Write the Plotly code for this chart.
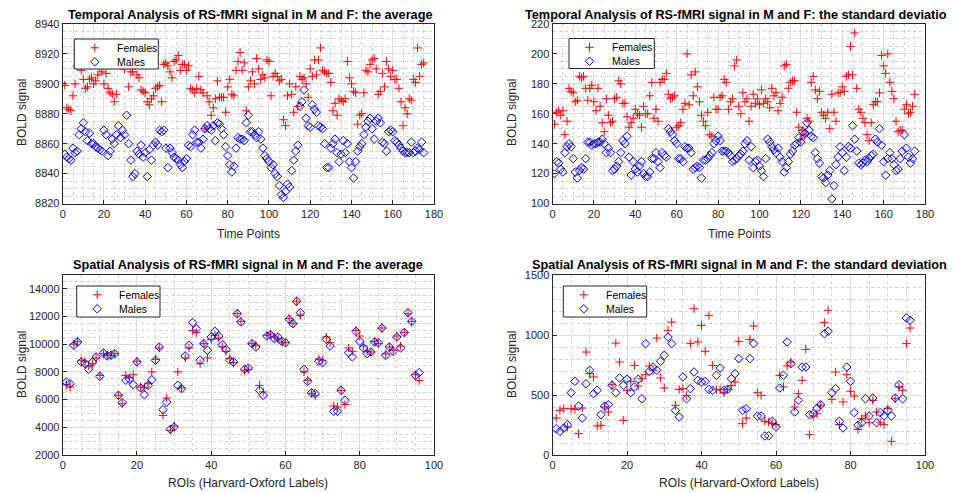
import plotly.graph_objects as go

# time points 1..175 and ROI indices 1..96
time_points = list(range(1, 176))
rois = list(range(1, 97))

# Temporal average (BOLD signal)
fem_avg_t = [8899, 8884, 8883, 8882, 8892, 8900, 8912, 8915, 8909, 8903,
             8897, 8898, 8903, 8904, 8900, 8902, 8906, 8911, 8908, 8900,
             8907, 8897, 8894, 8893, 8888, 8893, 8914, 8912, 8918, 8910,
             8913, 8898, 8908, 8908, 8912, 8906, 8904, 8896, 8895, 8894,
             8888, 8886, 8890, 8892, 8897, 8898, 8899, 8888, 8913, 8914,
             8912, 8908, 8904, 8915, 8916, 8919, 8909, 8913, 8913, 8909,
             8912, 8897, 8896, 8894, 8897, 8905, 8896, 8894, 8870, 8892,
             8888, 8879, 8884, 8890, 8902, 8891, 8891, 8891, 8881, 8898,
             8903, 8893, 8892, 8909, 8915, 8921, 8909, 8914, 8882, 8898,
             8902, 8908, 8900, 8917, 8910, 8903, 8906, 8904, 8916, 8915,
             8892, 8905, 8907, 8905, 8902, 8903, 8876, 8872, 8892, 8900,
             8893, 8881, 8898, 8885, 8905, 8903, 8904, 8900, 8891, 8910,
             8905, 8916, 8906, 8916, 8924, 8909, 8908, 8907, 8907, 8901,
             8882, 8887, 8879, 8890, 8889, 8888, 8890, 8915, 8904, 8900,
             8895, 8894, 8873, 8879, 8880, 8894, 8909, 8908, 8913, 8916,
             8917, 8910, 8893, 8895, 8907, 8898, 8915, 8910, 8905, 8909,
             8903, 8903, 8897, 8888, 8872, 8884, 8880, 8890, 8889, 8903,
             8901, 8924, 8905, 8913, 8914]
male_avg_t = [8853, 8851, 8850, 8849, 8857, 8854, 8855, 8866, 8870, 8874,
              8868, 8862, 8867, 8860, 8860, 8858, 8857, 8856, 8855, 8869,
              8866, 8852, 8855, 8863, 8860, 8866, 8872, 8864, 8869, 8866,
              8879, 8860, 8849, 8838, 8840, 8855, 8853, 8859, 8851, 8854,
              8838, 8856, 8849, 8859, 8861, 8859, 8869, 8868, 8869, 8857,
              8844, 8857, 8854, 8851, 8850, 8849, 8846, 8844, 8848, 8850,
              8859, 8858, 8866, 8869, 8861, 8861, 8857, 8863, 8870, 8872,
              8870, 8869, 8872, 8862, 8874, 8873, 8870, 8866, 8858, 8852,
              8846, 8841, 8845, 8857, 8864, 8863, 8863, 8862, 8874, 8879,
              8868, 8868, 8866, 8864, 8868, 8863, 8857, 8852, 8850, 8848,
              8844, 8846, 8840, 8838, 8832, 8826, 8824, 8828, 8833, 8831,
              8842, 8849, 8855, 8859, 8885, 8888, 8896, 8877, 8872, 8871,
              8886, 8883, 8881, 8872, 8871, 8870, 8860, 8844, 8844, 8857,
              8860, 8863, 8854, 8848, 8853, 8862, 8854, 8860, 8848, 8844,
              8837, 8848, 8855, 8858, 8860, 8866, 8871, 8875, 8877, 8870,
              8863, 8875, 8877, 8874, 8861, 8860, 8855, 8868, 8869, 8868,
              8862, 8861, 8859, 8857, 8855, 8854, 8854, 8854, 8861, 8854,
              8855, 8857, 8856, 8861, 8854]

# Temporal standard deviation
fem_std_t = [153, 161, 162, 159, 162, 146, 155, 177, 175, 174,
             168, 169, 185, 184, 185, 177, 169, 177, 179, 168,
             162, 177, 165, 154, 148, 170, 159, 154, 155, 170,
             171, 182, 180, 167, 167, 158, 151, 154, 157, 163,
             160, 159, 151, 165, 160, 160, 172, 181, 157, 163,
             155, 181, 183, 183, 187, 173, 170, 171, 172, 151,
             152, 154, 163, 167, 200, 166, 186, 172, 188, 178,
             168, 159, 155, 152, 161, 146, 145, 171, 163, 163,
             171, 172, 183, 181, 163, 168, 170, 192, 196, 165,
             160, 174, 168, 170, 155, 165, 173, 167, 170, 166,
             176, 167, 170, 168, 164, 177, 172, 174, 162, 167,
             171, 192, 193, 177, 181, 182, 182, 161, 151, 143,
             149, 146, 157, 155, 181, 185, 176, 170, 175, 161,
             159, 157, 161, 150, 173, 161, 155, 174, 174, 178,
             175, 185, 186, 205, 186, 214, 177, 163, 161, 157,
             154, 146, 142, 154, 166, 168, 168, 174, 199, 192,
             187, 200, 181, 175, 170, 155, 148, 149, 149, 163,
             166, 160, 161, 165, 173]
male_std_t = [120, 128, 127, 123, 121, 134, 138, 140, 138, 130,
              121, 117, 122, 124, 123, 130, 141, 141, 139, 140,
              140, 141, 141, 143, 140, 134, 137, 134, 122, 123,
              125, 128, 134, 142, 140, 145, 131, 119, 128, 123,
              121, 125, 128, 120, 118, 118, 121, 130, 130, 134,
              128, 124, 134, 132, 131, 150, 148, 146, 142, 140,
              130, 130, 128, 138, 137, 137, 134, 123, 124, 125,
              124, 117, 129, 129, 130, 132, 134, 140, 142, 145,
              142, 135, 135, 135, 134, 132, 128, 129, 130, 132,
              133, 135, 140, 142, 129, 138, 124, 128, 129, 125,
              122, 118, 130, 143, 141, 138, 136, 134, 137, 131,
              128, 121, 124, 128, 133, 135, 139, 140, 144, 141,
              148, 147, 154, 149, 145, 144, 134, 130, 127, 118,
              117, 114, 119, 122, 103, 112, 126, 131, 138, 134,
              122, 131, 138, 137, 152, 143, 135, 127, 126, 127,
              129, 128, 130, 132, 133, 143, 141, 150, 139, 128,
              119, 130, 134, 130, 126, 122, 123, 130, 135, 146,
              137, 131, 127, 130, 135]

# Spatial average per ROI
fem_avg_s = [7080, 6910, 10000, 10210, 8840, 8770, 8430, 8600, 9010, 7750,
             9320, 9200, 9200, 9320, 6310, 5710, 7750, 7600, 7800, 8770,
             6910, 6840, 7150, 8000, 8910, 9730, 4860, 6110, 3780, 4090,
             8000, 6840, 9010, 9730, 11000, 10840, 8600, 10040, 9010, 10350,
             10640, 10450, 9800, 9490, 8960, 8670, 12210, 11650, 8120, 8190,
             10040, 9920, 7030, 6550, 10640, 10750, 10520, 10400, 10160, 10110,
             11850, 11490, 13100, 12090, 8000, 7390, 6450, 6310, 8910, 8840,
             10520, 10110, 5540, 5470, 6670, 5640, 9730, 9490, 11000, 10590,
             9870, 9490, 9440, 10200, 10050, 11170, 9300, 9800, 9550, 10590,
             9870, 10840, 12210, 11650, 7800, 7390]
male_avg_s = [7270, 7150, 9920, 10160, 8720, 8600, 8190, 8720, 9080, 7680,
              9370, 9150, 9200, 9320, 6310, 5780, 7400, 7460, 7080, 8720,
              6840, 6360, 7030, 7440, 8840, 9800, 5270, 5820, 3850, 4020,
              7030, 6790, 9150, 9920, 11560, 11120, 8840, 10040, 9560, 10520,
              10930, 10590, 9970, 9630, 8840, 8720, 12210, 11610, 8190, 8280,
              10040, 9800, 6670, 6310, 10590, 10690, 10400, 10520, 10210, 10110,
              11800, 11490, 13100, 12280, 8190, 7320, 6500, 6430, 8770, 8670,
              10350, 9870, 5150, 5150, 6670, 5950, 9390, 9080, 10930, 10210,
              9730, 9320, 9440, 10160, 10110, 11170, 9200, 9800, 9490, 10520,
              9730, 10840, 12280, 11650, 7750, 7950]

# Spatial standard deviation per ROI
fem_std_s = [308, 372, 386, 233, 386, 380, 178, 391, 858, 678,
             650, 242, 247, 400, 358, 586, 933, 775, 289, 539,
             614, 747, 575, 636, 669, 742, 706, 975, 642, 558,
             1039, 1108, 414, 547, 553, 497, 928, 1219, 942, 1081,
             864, 1164, 747, 544, 544, 520, 547, 580, 608, 947,
             261, 308, 964, 1075, 519, 497, 281, 275, 261, 253,
             664, 567, 742, 775, 400, 511, 622, 881, 169, 325,
             344, 414, 1103, 1206, 464, 692, 253, 442, 669, 531,
             492, 214, 303, 325, 269, 456, 358, 269, 253, 386,
             114, 469, 567, 539, 928, 1058]
male_std_s = [219, 197, 225, 253, 519, 614, 408, 308, 594, 706,
              511, 539, 336, 408, 419, 581, 519, 642, 581, 631,
              519, 567, 631, 469, 928, 697, 733, 706, 781, 831,
              983, 928, 372, 317, 650, 469, 553, 692, 622, 608,
              614, 547, 539, 664, 725, 539, 547, 636, 678, 803,
              372, 386, 803, 928, 325, 325, 158, 160, 281, 233,
              558, 664, 942, 761, 358, 456, 733, 733, 336, 344,
              390, 419, 1011, 1031, 519, 553, 281, 225, 733, 614,
              353, 247, 269, 469, 325, 475, 269, 353, 325, 372,
              325, 475, 586, 469, 1142, 1122]

titles = ["Temporal Analysis of RS-fMRI signal in M and F: the average",
          "Temporal Analysis of RS-fMRI signal in M and F: the standard deviation",
          "Spatial Analysis of RS-fMRI signal in M and F: the average",
          "Spatial Analysis of RS-fMRI signal in M and F: the standard deviation"]
series_names = ["Females", "Males"]

W, H = 955, 493
OFF = 8  # the page body has an 8px margin, so shift everything back
FONT = "Liberation Sans, Arial, Helvetica, sans-serif"
INK = "#262626"
RED, BLUE = "#ff0000", "#0000ff"
F_MARK = dict(symbol="cross-thin", size=6, color=RED, line=dict(color=RED, width=1))
M_MARK = dict(symbol="diamond-open", size=6.5, color=BLUE, line=dict(color=BLUE, width=1))


def px_x(p):
    return (p - OFF) / W


def px_y(p):
    return 1 - (p - OFF) / H


fig = go.Figure()

panels = [
    (time_points, fem_avg_t, male_avg_t, ""),
    (time_points, fem_std_t, male_std_t, "2"),
    (rois, fem_avg_s, male_avg_s, "3"),
    (rois, fem_std_s, male_std_s, "4"),
]
for xs, f, m, ax in panels:
    fig.add_trace(go.Scatter(x=xs, y=f, mode="markers", name="Females",
                             xaxis="x" + ax, yaxis="y" + ax, showlegend=False,
                             marker=F_MARK))
    fig.add_trace(go.Scatter(x=xs, y=m, mode="markers", name="Males",
                             xaxis="x" + ax, yaxis="y" + ax, showlegend=False,
                             marker=M_MARK))

xl = [px_x(62.7), px_x(434)]
xr = [px_x(552.5), px_x(925)]
yt = [px_y(203.5), px_y(24)]
yb = [px_y(455), px_y(275)]


def axis(domain, rng, dtick, minor, anchor):
    return dict(domain=domain, range=rng, dtick=dtick, tick0=0, anchor=anchor,
                automargin=False, exponentformat="none", tickformat="d",
                showline=True, mirror=True, linecolor=INK, linewidth=1,
                ticks="inside", ticklen=4, tickcolor=INK,
                tickfont=dict(family=FONT, size=11, color=INK),
                showgrid=True, gridcolor="#dedede", gridwidth=1, zeroline=False,
                minor=dict(dtick=minor, showgrid=True, gridcolor="#d2d2d2",
                           griddash="dot", gridwidth=1))


# an invisible overlay axis pair in page pixels, used to draw the legend boxes
overlay = dict(domain=[0, 1], visible=False, showgrid=False, zeroline=False,
               automargin=False, fixedrange=True)
fig.update_layout(
    width=W, height=H, margin=dict(l=0, r=0, t=0, b=0, autoexpand=False),
    paper_bgcolor="white", plot_bgcolor="rgba(0,0,0,0)",
    font=dict(family=FONT, color=INK), showlegend=False,
    xaxis=axis(xl, [0, 180], 20, 5, "y"),
    yaxis=axis(yt, [8820, 8940], 20, 5, "x"),
    xaxis2=axis(xr, [0, 180], 20, 5, "y2"),
    yaxis2=axis(yt, [100, 220], 20, 5, "x2"),
    xaxis3=axis(xl, [0, 100], 20, 5, "y3"),
    yaxis3=axis(yb, [2000, 15000], 2000, 500, "x3"),
    xaxis4=axis(xr, [0, 100], 20, 5, "y4"),
    yaxis4=axis(yb, [0, 1500], 500, 100, "x4"),
    xaxis5=dict(range=[OFF, OFF + W], anchor="y5", **overlay),
    yaxis5=dict(range=[OFF + H, OFF], anchor="x5", **overlay),
)

# legend boxes (page pixels): left, top, right, bottom
legend_boxes = [(74.3, 39, 158.3, 69), (569, 38.5, 654.3, 68.5),
                (76.7, 286, 160, 317), (563.3, 286, 646.7, 317)]
for x0, y0, x1, y1 in legend_boxes:
    fig.add_trace(go.Scatter(x=[x0, x1, x1, x0, x0], y=[y0, y0, y1, y1, y0],
                             xaxis="x5", yaxis="y5", mode="lines", fill="toself",
                             fillcolor="white", line=dict(color=INK, width=1),
                             hoverinfo="skip", showlegend=False))
    mx = x0 + 20.5
    ya, yb_ = y0 + 8.8, y0 + 22.8
    fig.add_trace(go.Scatter(x=[mx], y=[ya], xaxis="x5", yaxis="y5", mode="markers",
                             marker=F_MARK, hoverinfo="skip", showlegend=False))
    fig.add_trace(go.Scatter(x=[mx], y=[yb_], xaxis="x5", yaxis="y5", mode="markers",
                             marker=M_MARK, hoverinfo="skip", showlegend=False))
    for name, yy in zip(series_names, [ya, yb_]):
        fig.add_annotation(text=name, x=px_x(x0 + 40.5), y=px_y(yy),
                           xref="paper", yref="paper", showarrow=False,
                           xanchor="left", yanchor="middle",
                           font=dict(family=FONT, size=10.5, color="black"))

# panel titles and axis labels
title_pos = [(249.5, 15), (739, 15), (248, 265), (739, 265)]
for t, (cx, cy) in zip(titles, title_pos):
    fig.add_annotation(text="<b>" + t + "</b>", x=px_x(cx), y=px_y(cy),
                       xref="paper", yref="paper", showarrow=False,
                       xanchor="center", yanchor="middle",
                       font=dict(family=FONT, size=12.7, color="black"))

for cx, cy in [(22, 113), (512, 113), (22, 365), (512, 365)]:
    fig.add_annotation(text="BOLD signal", x=px_x(cx), y=px_y(cy), textangle=-90,
                       xref="paper", yref="paper", showarrow=False,
                       xanchor="center", yanchor="middle",
                       font=dict(family=FONT, size=12, color=INK))

for cx, cy, lab in [(248, 234, "Time Points"), (739, 234, "Time Points"),
                    (248, 483, "ROIs (Harvard-Oxford Labels)"),
                    (739, 483, "ROIs (Harvard-Oxford Labels)")]:
    fig.add_annotation(text=lab, x=px_x(cx), y=px_y(cy),
                       xref="paper", yref="paper", showarrow=False,
                       xanchor="center", yanchor="middle",
                       font=dict(family=FONT, size=12, color=INK))

fig.write_html("out.html")
